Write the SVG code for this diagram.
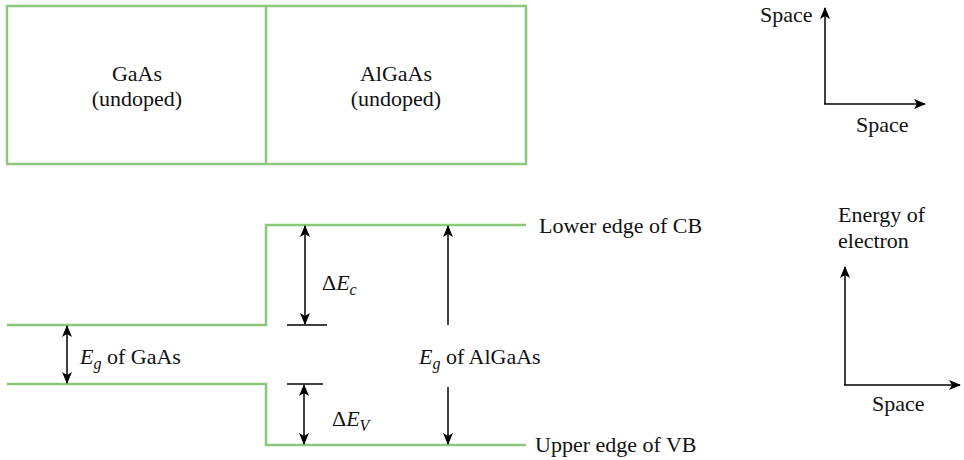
<svg xmlns="http://www.w3.org/2000/svg" width="964" height="460" viewBox="0 0 964 460">
<defs>
<style>
.band{fill:none;stroke:#8dc77b;stroke-width:2.5}
.ln{fill:none;stroke:#000;stroke-width:1.5}
.ar{fill:none;stroke:#000;stroke-width:1.5;marker-end:url(#ah)}
.dar{fill:none;stroke:#000;stroke-width:1.5;marker-start:url(#ahs);marker-end:url(#ah)}
</style>
<marker id="ah" viewBox="0 0 12 10" refX="11" refY="5" markerWidth="12" markerHeight="10" markerUnits="userSpaceOnUse" orient="auto">
<path d="M0,0 L12,5 L0,10 L3,5 Z" fill="#000"/>
</marker>
<marker id="ahs" viewBox="0 0 12 10" refX="11" refY="5" markerWidth="12" markerHeight="10" markerUnits="userSpaceOnUse" orient="auto-start-reverse">
<path d="M0,0 L12,5 L0,10 L3,5 Z" fill="#000"/>
</marker>
</defs>
<g id="structure">
<rect class="band" x="7" y="6" width="519" height="158"/>
<line class="band" x1="266" y1="6" x2="266" y2="164"/>
<text x="137" y="81" text-anchor="middle" font-size="22" font-family="Liberation Serif" fill="#111">GaAs</text>
<text x="137" y="106" text-anchor="middle" font-size="22" font-family="Liberation Serif" fill="#111">(undoped)</text>
<text x="396" y="81" text-anchor="middle" font-size="22" font-family="Liberation Serif" fill="#111">AlGaAs</text>
<text x="396" y="106" text-anchor="middle" font-size="22" font-family="Liberation Serif" fill="#111">(undoped)</text>
</g>
<g id="bands">
<path class="band" d="M7,325 H266 V225 H526"/>
<path class="band" d="M7,384 H266 V445 H526"/>
<line class="ln" x1="287" y1="325" x2="327" y2="325"/>
<line class="ln" x1="287" y1="384" x2="323" y2="384"/>
</g>
<g id="connectors">
<line class="dar" x1="67" y1="326" x2="67" y2="383"/>
<line class="dar" x1="305" y1="226" x2="305" y2="324"/>
<line class="dar" x1="304" y1="385" x2="304" y2="444"/>
<line class="ar" x1="448" y1="325" x2="448" y2="226"/>
<line class="ar" x1="448" y1="387" x2="448" y2="444"/>
<line class="ar" x1="825" y1="104" x2="825" y2="8"/>
<line class="ar" x1="824" y1="104" x2="925" y2="104"/>
<line class="ar" x1="845" y1="385" x2="845" y2="267"/>
<line class="ar" x1="844" y1="385" x2="960" y2="385"/>
</g>
<g id="labels" font-size="22" font-family="Liberation Serif" fill="#111">
<text x="80" y="364" font-family="Liberation Serif"><tspan font-style="italic">E</tspan><tspan font-style="italic" font-size="16" dy="5">g</tspan><tspan dy="-5"> of GaAs</tspan></text>
<text x="322" y="290" font-family="Liberation Serif">Δ<tspan font-style="italic">E</tspan><tspan font-style="italic" font-size="16" dy="5">c</tspan></text>
<text x="332" y="426" font-family="Liberation Serif">Δ<tspan font-style="italic">E</tspan><tspan font-style="italic" font-size="16" dy="5">V</tspan></text>
<text x="419" y="364" font-family="Liberation Serif"><tspan font-style="italic">E</tspan><tspan font-style="italic" font-size="16" dy="5">g</tspan><tspan dy="-5"> of AlGaAs</tspan></text>
<text x="539" y="233" font-family="Liberation Serif">Lower edge of CB</text>
<text x="535" y="452" font-family="Liberation Serif">Upper edge of VB</text>
<text x="760" y="22" font-family="Liberation Serif">Space</text>
<text x="856" y="132" font-family="Liberation Serif">Space</text>
<text x="838" y="222" font-family="Liberation Serif">Energy of</text>
<text x="838" y="248" font-family="Liberation Serif">electron</text>
<text x="872" y="411" font-family="Liberation Serif">Space</text>
</g>
</svg>
